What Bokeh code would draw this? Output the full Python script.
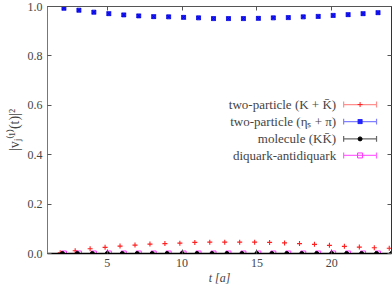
from bokeh.plotting import figure
from bokeh.models import (ColumnDataSource, LinearAxis, Label, FixedTicker, Range1d,
                          PrintfTickFormatter, CustomJSTickFormatter)
from bokeh.transform import dodge
from bokeh.embed import file_html
from bokeh.resources import INLINE

# ---- data ----
t_two_particle_KK = [2, 3, 4, 5, 6, 7, 8, 9, 10, 11, 12, 13, 14, 15, 16, 17, 18, 19, 20, 21, 22, 23, 24]
two_particle_KK = [0.003, 0.011, 0.019, 0.025, 0.030, 0.034, 0.038, 0.040, 0.042, 0.045, 0.046, 0.046,
                   0.046, 0.046, 0.045, 0.043, 0.040, 0.037, 0.033, 0.029, 0.026, 0.023, 0.021]
t_two_particle_eta_pi = [2, 3, 4, 5, 6, 7, 8, 9, 10, 11, 12, 13, 14, 15, 16, 17, 18, 19, 20, 21, 22, 23]
two_particle_eta_pi = [0.993, 0.985, 0.977, 0.971, 0.966, 0.962, 0.959, 0.958, 0.956, 0.954, 0.951,
                       0.951, 0.951, 0.952, 0.954, 0.955, 0.958, 0.960, 0.964, 0.967, 0.971, 0.975]
t_molecule = [2, 3, 4, 5, 6, 7, 8, 9, 10, 11, 12, 13, 14, 15, 16, 17, 18, 19, 20, 21, 22, 23, 24]
molecule = [0.0, 0.0, 0.0, 0.0, 0.0, 0.0, 0.0, 0.0, 0.0, 0.0, 0.0, 0.0,
            0.0, 0.0, 0.0, 0.0, 0.0, 0.0, 0.0, 0.0, 0.0, 0.0, 0.0]
t_diquark = [2, 3, 4, 5, 6, 7, 8, 9, 10, 11, 12, 13, 14, 15, 16, 17, 18, 19, 20, 21, 22, 23]
diquark = [0.0, 0.0, 0.0, 0.0, 0.0, 0.0, 0.0, 0.0, 0.0, 0.0, 0.0,
           0.0, 0.0, 0.0, 0.0, 0.0, 0.0, 0.0, 0.0, 0.0, 0.0, 0.0]

legend_labels = ["two-particle (K + K\u0304)", "two-particle (\u03b7\u209b + \u03c0)",
                 "molecule (KK\u0304)", "diquark-antidiquark"]
x_ticks = [5, 10, 15, 20]
y_ticks = [0.0, 0.2, 0.4, 0.6, 0.8, 1.0]

FONT = "Liberation Serif"
TXT = "#444444"

p = figure(width=392, height=287, x_range=Range1d(1, 24), y_range=Range1d(0, 1),
           output_backend="svg", toolbar_location=None,
           min_border_left=47, min_border_right=1, min_border_top=6, min_border_bottom=30)
p.xgrid.visible = False
p.ygrid.visible = False
p.outline_line_color = "#555555"
p.background_fill_color = "white"
p.border_fill_color = "white"

for ax in (p.xaxis[0], p.yaxis[0]):
    ax.major_tick_in = 4
    ax.major_tick_out = 0
    ax.minor_tick_line_color = None
    ax.major_label_text_font = FONT
    ax.major_label_text_font_size = "12px"
    ax.major_label_text_color = TXT
    ax.major_tick_line_color = "#555555"
    ax.axis_label_text_font = FONT
    ax.axis_label_text_font_size = "12px"
    ax.axis_label_text_color = TXT
p.xaxis[0].ticker = FixedTicker(ticks=x_ticks)
p.yaxis[0].ticker = FixedTicker(ticks=y_ticks)
p.yaxis[0].formatter = PrintfTickFormatter(format="%.1f")
p.xaxis[0].axis_line_color = "black"
p.xaxis[0].axis_line_width = 1.5
p.yaxis[0].axis_line_color = "#777777"
p.xaxis[0].major_label_standoff = 5
p.yaxis[0].major_label_standoff = 5
p.xaxis[0].axis_label = "t [a]"
p.xaxis[0].axis_label_text_font_style = "italic"
p.xaxis[0].axis_label_standoff = 1
p.yaxis[0].axis_label = "|v\u2c7c\u207d\u00b9\u207e(t)|\u00b2"
p.yaxis[0].axis_label_text_font_size = "14px"
p.yaxis[0].axis_label_text_font_style = "normal"
p.yaxis[0].axis_label_standoff = 3

# mirrored ticks (no labels)
blank = CustomJSTickFormatter(code="return ''")
right_ax = LinearAxis(ticker=FixedTicker(ticks=y_ticks), formatter=blank,
                      major_tick_in=4, major_tick_out=0, minor_tick_line_color=None,
                      major_label_standoff=0, axis_line_color="#333333",
                      major_tick_line_color="#555555")
top_ax = LinearAxis(ticker=FixedTicker(ticks=x_ticks), formatter=blank,
                    major_tick_in=4, major_tick_out=0, minor_tick_line_color=None,
                    major_label_standoff=0, axis_line_color="#555555",
                    major_tick_line_color="#555555")
p.add_layout(right_ax, "right")
p.add_layout(top_ax, "above")

# ---- series ----
src_kk = ColumnDataSource(dict(t=t_two_particle_KK, v=two_particle_KK))
src_ep = ColumnDataSource(dict(t=t_two_particle_eta_pi, v=two_particle_eta_pi))
src_mo = ColumnDataSource(dict(t=t_molecule, v=molecule))
src_dq = ColumnDataSource(dict(t=t_diquark, v=diquark))

p.scatter(x=dodge("t", -0.15, range=p.x_range), y="v", source=src_kk, marker="cross",
          size=5, line_color="#ff2020", line_width=1.1)
p.scatter(x=dodge("t", 0.1, range=p.x_range), y="v", source=src_ep, marker="square_x",
          size=4, fill_color="#2222ff", line_color="#0000dd", line_width=0.8)
p.scatter(x=dodge("t", 0.1, range=p.x_range), y="v", source=src_dq, marker="square",
          size=5, fill_color=None, line_color="#ff33ff", line_width=1)
p.scatter(x="t", y="v", source=src_mo, marker="circle", size=4,
          fill_color="black", line_color="black")

# ---- legend (text right-aligned, sample on the right) ----
leg_text_x = 20.3
leg_x0, leg_x1, leg_xm = 20.8, 23.0, 21.9
leg_y = [0.603, 0.534, 0.464, 0.397]
leg_line_colors = ["#ff9090", "#8080ff", "#666666", "#ff66ff"]
leg_marker = ["cross", "square_x", "circle", "square"]
leg_mcol = ["#ff2020", "#2222ff", "black", "#ff33ff"]
leg_fill = ["#ff2020", "#2222ff", "black", None]
leg_size = [5, 4, 4, 5]
cap = 0.012
for i in range(4):
    y = leg_y[i]
    p.segment(x0=[leg_x0], y0=[y], x1=[leg_x1], y1=[y], line_color=leg_line_colors[i], line_width=1.2)
    p.segment(x0=[leg_x0, leg_x1], y0=[y - cap, y - cap], x1=[leg_x0, leg_x1], y1=[y + cap, y + cap],
              line_color=leg_line_colors[i], line_width=1.2)
    p.scatter(x=[leg_xm], y=[y], marker=leg_marker[i], size=leg_size[i],
              fill_color=leg_fill[i], line_color=leg_mcol[i])
    p.add_layout(Label(x=leg_text_x, y=y, text=legend_labels[i], text_align="right",
                       text_baseline="middle", text_font=FONT, text_font_size="13px",
                       text_color=TXT))

open("out.html", "w").write(file_html(p, INLINE))
